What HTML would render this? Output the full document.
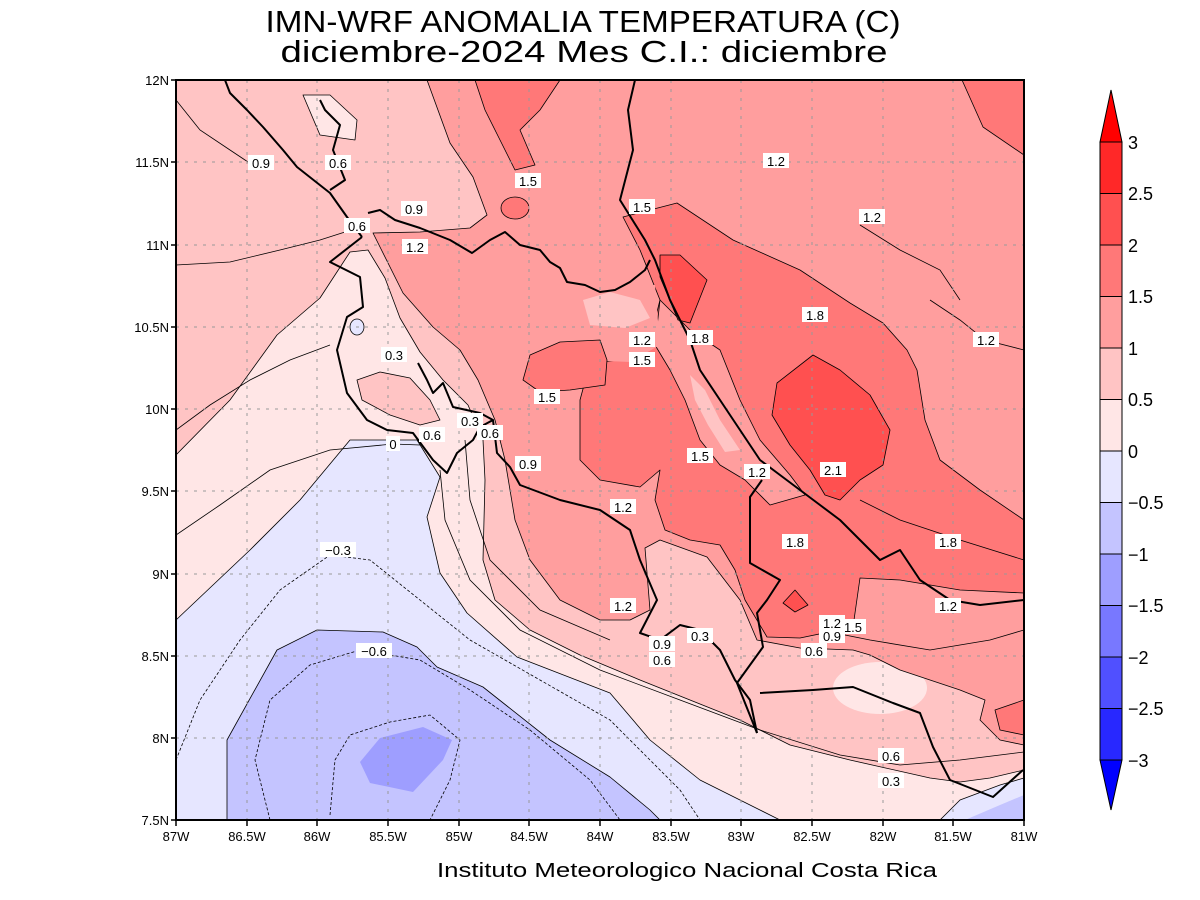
<!DOCTYPE html>
<html><head><meta charset="utf-8"><style>html,body{margin:0;padding:0;background:#fff}svg{display:block}</style></head>
<body>
<svg width="1200" height="900" viewBox="0 0 1200 900" xmlns="http://www.w3.org/2000/svg" font-family="Liberation Sans, sans-serif">
<defs><clipPath id="pc"><rect x="176" y="80" width="848" height="740"/></clipPath></defs>
<rect width="1200" height="900" fill="#fff"/>
<text x="583" y="32" font-size="31" text-anchor="middle" textLength="635" lengthAdjust="spacingAndGlyphs">IMN-WRF  ANOMALIA TEMPERATURA (C)</text>
<text x="584" y="62" font-size="31" text-anchor="middle" textLength="607" lengthAdjust="spacingAndGlyphs">diciembre-2024 Mes C.I.: diciembre</text>
<g clip-path="url(#pc)" stroke="#000" stroke-width="0.8" stroke-linejoin="round">
<rect x="176" y="80" width="848" height="740" fill="#ffc4c4" stroke="none"/>
<path fill="#ffe6e6" d="M176,455 L230,400 L277,335 L320,298 L335,275 L350,252 L368,250 L385,278 L400,318 L420,352 L443,380 L468,405 L483,440 L485,480 L483,560 L495,600 L530,630 L580,655 L640,680 L690,700 L740,720 L790,745 L850,760 L930,778 L960,782 L990,778 L1024,770 L1024,820 L176,820 Z"/>
<path fill="#ffc4c4" d="M357,380 L380,372 L410,378 L430,400 L440,420 L420,425 L390,415 L362,400 Z"/>
<path fill="#ffe6e6" d="M303,95 L330,95 L357,120 L355,140 L320,135 Z"/>
<ellipse cx="880" cy="688" rx="47" ry="26" fill="#ffe6e6" stroke="none"/>
<path fill="#ff9e9e" d="M427,80 L1024,80 L1024,745 L1000,740 L980,720 L985,700 L960,690 L900,670 L870,655 L853,650 L800,648 L757,640 L740,600 L707,557 L660,540 L645,548 L650,610 L630,620 L600,620 L560,600 L530,560 L515,520 L505,460 L495,420 L478,380 L460,350 L433,327 L403,293 L373,233 L420,232 L470,228 L487,215 L473,177 L450,143 Z"/>
<path fill="#ff7878" d="M623,217 L677,203 L733,240 L800,270 L850,303 L883,323 L907,350 L917,370 L925,420 L940,460 L980,490 L1024,520 L1024,593 L960,590 L900,580 L860,578 L853,627 L800,638 L767,637 L745,600 L735,570 L720,545 L690,540 L665,530 L655,500 L660,470 L640,487 L600,480 L580,460 L580,400 L590,363 L620,360 L650,340 L660,300 L640,250 Z"/>
<path fill="#ff9e9e" d="M660,300 L690,330 L720,350 L740,400 L760,440 L790,475 L805,495 L770,505 L745,480 L720,465 L700,440 L685,400 L670,370 L655,345 Z"/>
<path fill="#ffc4c4" stroke="none" d="M690,375 L705,390 L720,420 L740,450 L725,452 L708,425 L695,400 Z"/>
<path fill="#ff9e9e" stroke="none" d="M585,285 L655,285 L660,345 L630,362 L585,360 Z"/>
<path fill="#ffc4c4" stroke="none" d="M583,300 L610,292 L640,300 L650,318 L625,328 L590,325 Z"/>
<path fill="#ff7878" d="M523,380 L530,355 L560,342 L600,340 L607,360 L605,385 L570,390 L540,392 Z"/>
<path fill="#ff7878" d="M475,80 L560,80 L540,110 L520,130 L535,165 L515,170 L500,140 L485,110 Z"/>
<path fill="#ff7878" d="M962,80 L1024,80 L1024,155 L983,127 Z"/>
<ellipse cx="515" cy="208" rx="14" ry="11" fill="#ff7878"/>
<path fill="#ff7878" d="M995,710 L1024,700 L1024,735 L1000,730 Z"/>
<path fill="#ff5050" d="M777,383 L813,355 L840,370 L870,395 L890,430 L883,465 L860,480 L840,500 L825,495 L810,470 L790,445 L772,415 Z"/>
<path fill="#ff5050" d="M660,255 L680,255 L707,280 L690,323 L678,320 L660,277 Z"/>
<path fill="#ff5050" d="M783,603 L795,590 L808,605 L795,612 Z"/>
<path fill="#e6e6ff" d="M176,620 L250,550 L300,500 L350,440 L417,440 L440,477 L427,517 L440,573 L467,613 L517,657 L610,693 L650,740 L700,780 L760,810 L780,820 L176,820 Z"/>
<path fill="#c4c4ff" d="M227,740 L277,650 L317,630 L383,632 L417,647 L437,667 L483,687 L550,740 L610,777 L650,810 L660,820 L235,820 L227,820 Z"/>
<path fill="#9e9eff" stroke="none" d="M360,762 L380,738 L423,727 L452,740 L443,760 L413,792 L370,783 Z"/>
<path fill="#e6e6ff" d="M940,820 L960,800 L1000,785 L1024,778 L1024,820 Z"/>
<path fill="#c4c4ff" stroke="none" d="M965,820 L1000,805 L1024,795 L1024,820 Z"/>
<ellipse cx="357" cy="327" rx="7" ry="8" fill="#e6e6ff"/>
</g>
<g clip-path="url(#pc)" fill="none" stroke="#000" stroke-width="0.8">
<path d="M176,535 L220,505 L270,470 L330,450 L393,444 L420,445"/>
<path d="M176,430 L210,405 L250,380 L290,360 L330,345"/>
<path d="M176,265 L230,262 L280,250 L320,240 L345,232"/>
<path d="M176,100 L200,130 L230,150 L248,162"/>
<path d="M440,470 L445,520 L470,580 L520,630 L600,670 L680,700 L760,730 L840,755 L900,765 L960,760 L1024,752"/>
<path d="M465,440 L470,500 L490,560 L540,610 L610,640"/>
<path d="M820,630 L870,640 L930,650 L990,640 L1024,630"/>
<path d="M860,500 L900,520 L960,540 L1024,560"/>
<path d="M930,300 L960,320 L985,340 L1024,350"/>
<path d="M860,225 L900,250 L940,270 L960,300"/>
</g>
<g clip-path="url(#pc)" fill="none" stroke="#000" stroke-width="0.8" stroke-dasharray="3,2">
<path d="M176,760 L200,700 L240,640 L280,590 L330,555 L370,560 L420,600 L470,640 L540,680 L610,720 L680,790 L700,820"/>
<path d="M270,820 L255,760 L270,700 L310,665 L360,650 L420,660 L470,690 L530,730 L590,780 L620,820"/>
<path d="M330,815 L335,760 L350,735 L390,722 L430,715 L460,740 L450,780 L430,820"/>
</g>
<g stroke="#999" stroke-width="1" stroke-dasharray="3,6">
<path d="M247,80V820M317,80V820M388,80V820M459,80V820M529,80V820M600,80V820M671,80V820M741,80V820M812,80V820M883,80V820M953,80V820"/>
<path d="M176,162H1024M176,245H1024M176,327H1024M176,409H1024M176,491H1024M176,574H1024M176,656H1024M176,738H1024"/>
</g>
<g clip-path="url(#pc)" fill="none" stroke="#000" stroke-width="2" stroke-linejoin="round">
<path d="M225,80 L230,93 L247,110 L263,127 L283,150 L297,167 L330,193 L347,217 L362,237"/>
<path d="M320,100 L325,110 L340,125 L333,150 L345,180 L330,190"/>
<path d="M368,213 L380,210 L395,220 L420,228 L450,240 L472,253 L490,240 L505,232 L520,245 L540,250 L550,262 L560,268 L567,282 L585,285 L600,292 L615,290 L630,282 L645,270 L650,260"/>
<path d="M635,80 L628,110 L633,150 L620,200 L645,240 L655,260 L670,300 L690,340 L700,370 L720,400 L740,430 L760,460 L780,475 L800,490 L820,505 L840,520 L860,540 L880,560 L900,550 L920,580 L950,600 L980,605 L1024,600"/>
<path d="M362,237 L330,262 L360,277 L363,307 L347,317 L337,350 L347,393 L367,420 L387,430 L413,433 L433,460 L447,473 L457,453 L473,440 L480,427 L493,420 L497,453 L510,467 L520,485 L560,500 L600,510 L630,530 L640,560 L657,600 L640,633 L660,640 L680,625 L700,630 L720,650 L735,680 L750,700 L757,733"/>
<path d="M418,363 L427,380 L433,393 L443,383 L453,407 L480,413 L493,420"/>
<path d="M762,480 L750,497 L750,563 L780,580 L767,600 L757,613 L763,647 L737,683 L757,733"/>
<path d="M760,693 L813,690 L853,687 L893,703 L920,713 L933,747 L950,780 L993,797 L1023,770"/>
</g>
<g font-size="13" text-anchor="middle">
<g fill="#fff">
<rect x="248" y="155" width="26" height="15"/><rect x="325" y="155" width="26" height="15"/><rect x="515" y="173" width="26" height="15"/><rect x="763" y="153" width="26" height="15"/><rect x="629" y="199" width="26" height="15"/><rect x="859" y="209" width="26" height="15"/><rect x="401" y="201" width="26" height="15"/><rect x="344" y="218" width="26" height="15"/><rect x="402" y="239" width="26" height="15"/><rect x="629" y="332" width="26" height="15"/><rect x="687" y="330" width="26" height="15"/><rect x="802" y="307" width="26" height="15"/><rect x="973" y="332" width="26" height="15"/><rect x="629" y="352" width="26" height="15"/><rect x="381" y="347" width="26" height="15"/><rect x="534" y="389" width="26" height="15"/><rect x="419" y="427" width="26" height="15"/><rect x="457" y="413" width="26" height="15"/><rect x="477" y="425" width="26" height="15"/><rect x="386" y="436" width="14" height="15"/><rect x="515" y="456" width="26" height="15"/><rect x="687" y="448" width="26" height="15"/><rect x="744" y="464" width="26" height="15"/><rect x="820" y="462" width="26" height="15"/><rect x="610" y="499" width="26" height="15"/><rect x="782" y="534" width="26" height="15"/><rect x="935" y="534" width="26" height="15"/><rect x="320" y="542" width="36" height="15"/><rect x="610" y="598" width="26" height="15"/><rect x="935" y="598" width="26" height="15"/><rect x="819" y="615" width="26" height="15"/><rect x="840" y="619" width="26" height="15"/><rect x="649" y="636" width="26" height="15"/><rect x="687" y="628" width="26" height="15"/><rect x="819" y="628" width="26" height="15"/><rect x="649" y="652" width="26" height="15"/><rect x="801" y="643" width="26" height="15"/><rect x="356" y="643" width="36" height="15"/><rect x="878" y="748" width="26" height="15"/><rect x="878" y="773" width="26" height="15"/>
</g>
<text x="261" y="168">0.9</text><text x="338" y="168">0.6</text><text x="528" y="186">1.5</text><text x="776" y="166">1.2</text><text x="642" y="212">1.5</text><text x="872" y="222">1.2</text><text x="414" y="214">0.9</text><text x="357" y="231">0.6</text><text x="415" y="252">1.2</text><text x="642" y="345">1.2</text><text x="700" y="343">1.8</text><text x="815" y="320">1.8</text><text x="986" y="345">1.2</text><text x="642" y="365">1.5</text><text x="394" y="360">0.3</text><text x="547" y="402">1.5</text><text x="432" y="440">0.6</text><text x="470" y="426">0.3</text><text x="490" y="438">0.6</text><text x="393" y="449">0</text><text x="528" y="469">0.9</text><text x="700" y="461">1.5</text><text x="757" y="477">1.2</text><text x="833" y="475">2.1</text><text x="623" y="512">1.2</text><text x="795" y="547">1.8</text><text x="948" y="547">1.8</text><text x="338" y="555">−0.3</text><text x="623" y="611">1.2</text><text x="948" y="611">1.2</text><text x="832" y="628">1.2</text><text x="853" y="632">1.5</text><text x="662" y="649">0.9</text><text x="700" y="641">0.3</text><text x="832" y="641">0.9</text><text x="662" y="665">0.6</text><text x="814" y="656">0.6</text><text x="374" y="656">−0.6</text><text x="891" y="761">0.6</text><text x="891" y="786">0.3</text>
</g>
<rect x="176" y="80" width="848" height="740" fill="none" stroke="#000" stroke-width="2"/>
<g stroke="#000" stroke-width="1.5">
<path d="M171,80H176M171,162H176M171,245H176M171,327H176M171,409H176M171,491H176M171,574H176M171,656H176M171,738H176M171,820H176"/>
<path d="M176,820V826M247,820V826M317,820V826M388,820V826M459,820V826M529,820V826M600,820V826M671,820V826M741,820V826M812,820V826M883,820V826M953,820V826M1024,820V826"/>
</g>
<g font-size="13" text-anchor="end">
<text x="169" y="85">12N</text><text x="169" y="167">11.5N</text><text x="169" y="250">11N</text><text x="169" y="332">10.5N</text><text x="169" y="414">10N</text><text x="169" y="496">9.5N</text><text x="169" y="579">9N</text><text x="169" y="661">8.5N</text><text x="169" y="743">8N</text><text x="169" y="825">7.5N</text>
</g>
<g font-size="13" text-anchor="middle">
<text x="176" y="841">87W</text><text x="247" y="841">86.5W</text><text x="317" y="841">86W</text><text x="388" y="841">85.5W</text><text x="459" y="841">85W</text><text x="529" y="841">84.5W</text><text x="600" y="841">84W</text><text x="671" y="841">83.5W</text><text x="741" y="841">83W</text><text x="812" y="841">82.5W</text><text x="883" y="841">82W</text><text x="953" y="841">81.5W</text><text x="1024" y="841">81W</text>
</g>
<text x="687" y="877" font-size="20" text-anchor="middle" textLength="500" lengthAdjust="spacingAndGlyphs">Instituto Meteorologico Nacional Costa Rica</text>
<g stroke="#000" stroke-width="1">
<path d="M1100,142 L1111,90 L1122,142 Z" fill="#ff0000"/>
<rect x="1100" y="142" width="22" height="51.5" fill="#ff2828"/>
<rect x="1100" y="193.5" width="22" height="51.5" fill="#ff5050"/>
<rect x="1100" y="245" width="22" height="51.5" fill="#ff7878"/>
<rect x="1100" y="296.5" width="22" height="51.5" fill="#ff9e9e"/>
<rect x="1100" y="348" width="22" height="51.5" fill="#ffc4c4"/>
<rect x="1100" y="399.5" width="22" height="51.5" fill="#ffe6e6"/>
<rect x="1100" y="451" width="22" height="51.5" fill="#e6e6ff"/>
<rect x="1100" y="502.5" width="22" height="51.5" fill="#c4c4ff"/>
<rect x="1100" y="554" width="22" height="51.5" fill="#9e9eff"/>
<rect x="1100" y="605.5" width="22" height="51.5" fill="#7878ff"/>
<rect x="1100" y="657" width="22" height="51.5" fill="#5050ff"/>
<rect x="1100" y="708.5" width="22" height="51.5" fill="#2828ff"/>
<path d="M1100,760 L1111,810 L1122,760 Z" fill="#0000ff"/>
</g>
<g font-size="18">
<text x="1128" y="149">3</text><text x="1128" y="200">2.5</text><text x="1128" y="252">2</text><text x="1128" y="303">1.5</text><text x="1128" y="355">1</text><text x="1128" y="406">0.5</text><text x="1128" y="458">0</text><text x="1128" y="509">−0.5</text><text x="1128" y="561">−1</text><text x="1128" y="612">−1.5</text><text x="1128" y="664">−2</text><text x="1128" y="715">−2.5</text><text x="1128" y="767">−3</text>
</g>
</svg>
</body></html>
